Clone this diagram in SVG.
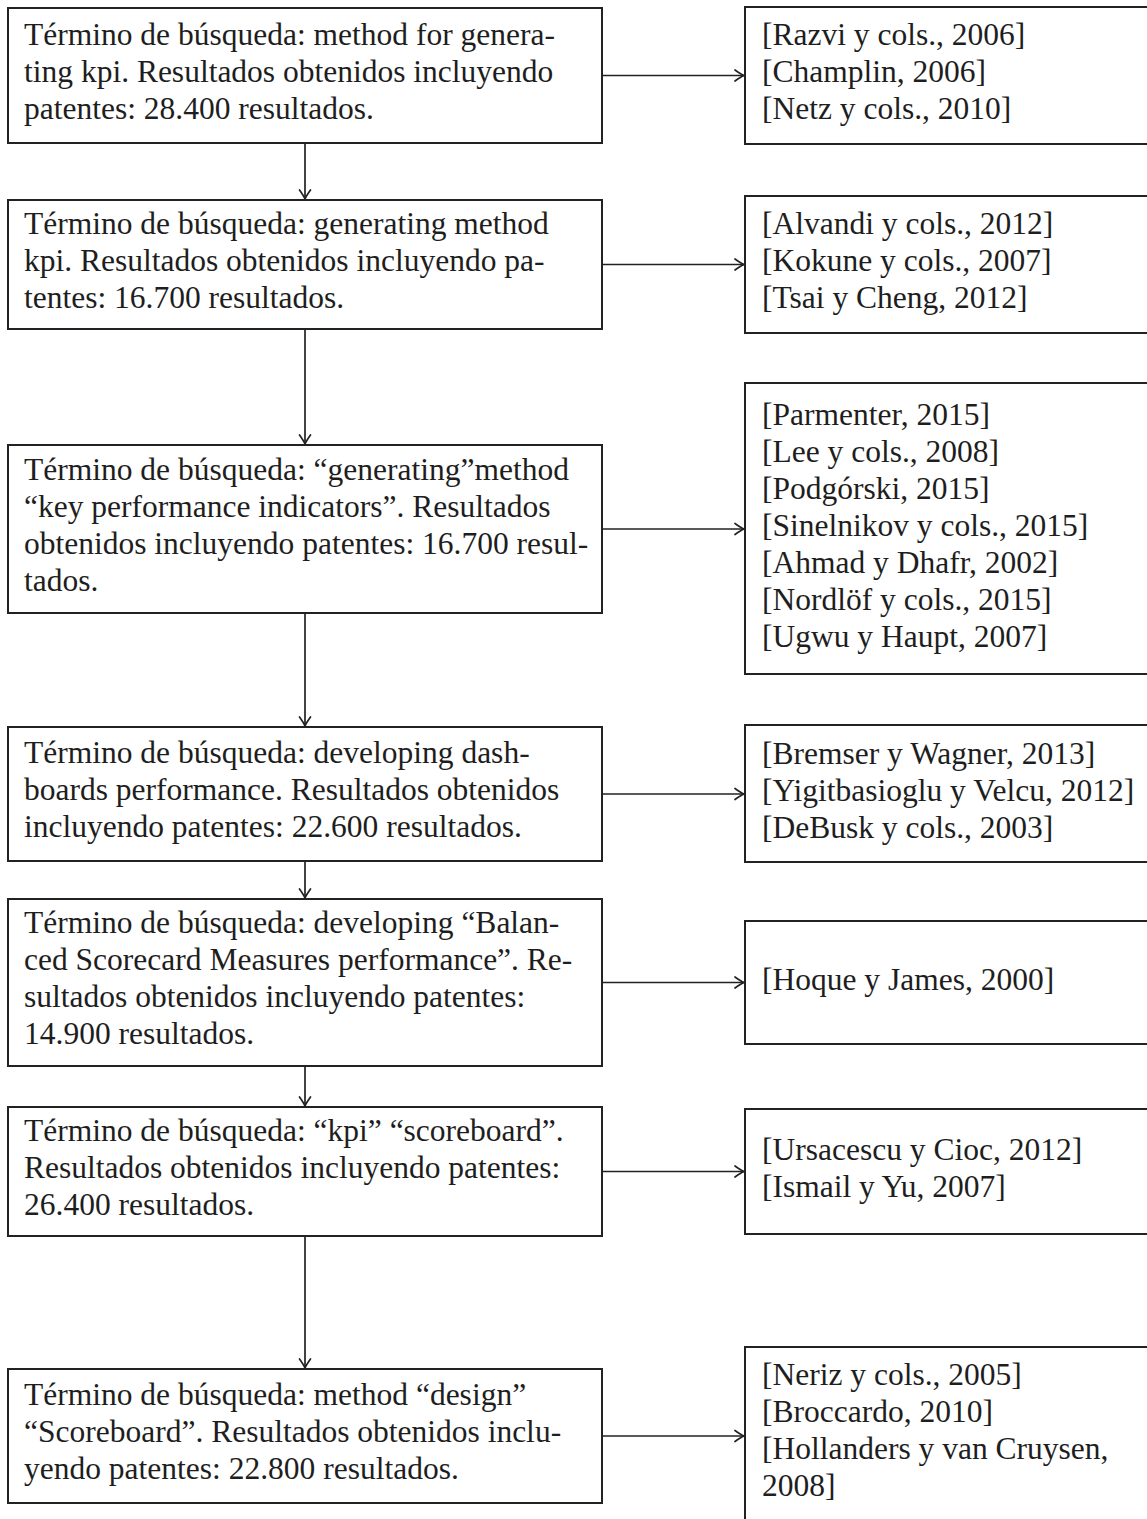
<svg xmlns="http://www.w3.org/2000/svg" width="1147" height="1519" viewBox="0 0 1147 1519">
<style>
.box{fill:#fff;stroke:#222;stroke-width:2}
.t{font-family:"Liberation Serif","Times New Roman",serif;font-size:31.5px;fill:#1e1e1e}
.c{fill:none;stroke:#222;stroke-width:1.7}
</style>
<defs>
<marker id="ah" markerUnits="userSpaceOnUse" markerWidth="16" markerHeight="16" viewBox="-12 -8 14 16" refX="0" refY="0" orient="auto">
<path d="M-9,-5.5 Q-3,-1.2 0,0 Q-3,1.2 -9,5.5" fill="none" stroke="#222" stroke-width="1.7" stroke-linecap="round"/>
</marker>
</defs>
<rect width="1147" height="1519" fill="#fff"/>
<g id="connectors">
<path class="c" marker-end="url(#ah)" d="M602,75.5H744"/>
<path class="c" marker-end="url(#ah)" d="M602,264.5H744"/>
<path class="c" marker-end="url(#ah)" d="M602,529H744"/>
<path class="c" marker-end="url(#ah)" d="M602,794H744"/>
<path class="c" marker-end="url(#ah)" d="M602,982.5H744"/>
<path class="c" marker-end="url(#ah)" d="M602,1171.5H744"/>
<path class="c" marker-end="url(#ah)" d="M602,1436H744"/>
<path class="c" marker-end="url(#ah)" d="M305,143V199"/>
<path class="c" marker-end="url(#ah)" d="M305,329V444"/>
<path class="c" marker-end="url(#ah)" d="M305,613V726"/>
<path class="c" marker-end="url(#ah)" d="M305,861V898"/>
<path class="c" marker-end="url(#ah)" d="M305,1066V1106"/>
<path class="c" marker-end="url(#ah)" d="M305,1236V1368"/>
</g>
<g id="L1"><rect class="box" x="8" y="8" width="594" height="135"/>
<text class="t" x="24" y="44.5">Término de búsqueda: method for genera-</text>
<text class="t" x="24" y="81.5">ting kpi. Resultados obtenidos incluyendo</text>
<text class="t" x="24" y="118.5">patentes: 28.400 resultados.</text></g>
<g id="R1"><rect class="box" x="745" y="7" width="410" height="137"/>
<text class="t" x="762" y="45">[Razvi y cols., 2006]</text>
<text class="t" x="762" y="82">[Champlin, 2006]</text>
<text class="t" x="762" y="119">[Netz y cols., 2010]</text></g>
<g id="L2"><rect class="box" x="8" y="200" width="594" height="129"/>
<text class="t" x="24" y="234">Término de búsqueda: generating method</text>
<text class="t" x="24" y="271">kpi. Resultados obtenidos incluyendo pa-</text>
<text class="t" x="24" y="308">tentes: 16.700 resultados.</text></g>
<g id="R2"><rect class="box" x="745" y="196" width="410" height="137"/>
<text class="t" x="762" y="234">[Alvandi y cols., 2012]</text>
<text class="t" x="762" y="271">[Kokune y cols., 2007]</text>
<text class="t" x="762" y="308">[Tsai y Cheng, 2012]</text></g>
<g id="L3"><rect class="box" x="8" y="445" width="594" height="168"/>
<text class="t" x="24" y="480">Término de búsqueda: “generating”method</text>
<text class="t" x="24" y="517">“key performance indicators”. Resultados</text>
<text class="t" x="24" y="554">obtenidos incluyendo patentes: 16.700 resul-</text>
<text class="t" x="24" y="591">tados.</text></g>
<g id="R3"><rect class="box" x="745" y="383" width="410" height="291"/>
<text class="t" x="762" y="425">[Parmenter, 2015]</text>
<text class="t" x="762" y="462">[Lee y cols., 2008]</text>
<text class="t" x="762" y="499">[Podgórski, 2015]</text>
<text class="t" x="762" y="536">[Sinelnikov y cols., 2015]</text>
<text class="t" x="762" y="573">[Ahmad y Dhafr, 2002]</text>
<text class="t" x="762" y="610">[Nordlöf y cols., 2015]</text>
<text class="t" x="762" y="647">[Ugwu y Haupt, 2007]</text></g>
<g id="L4"><rect class="box" x="8" y="727" width="594" height="134"/>
<text class="t" x="24" y="763">Término de búsqueda: developing dash-</text>
<text class="t" x="24" y="800">boards performance. Resultados obtenidos</text>
<text class="t" x="24" y="837">incluyendo patentes: 22.600 resultados.</text></g>
<g id="R4"><rect class="box" x="745" y="725" width="410" height="137"/>
<text class="t" x="762" y="764">[Bremser y Wagner, 2013]</text>
<text class="t" x="762" y="801">[Yigitbasioglu y Velcu, 2012]</text>
<text class="t" x="762" y="838">[DeBusk y cols., 2003]</text></g>
<g id="L5"><rect class="box" x="8" y="899" width="594" height="167"/>
<text class="t" x="24" y="933">Término de búsqueda: developing “Balan-</text>
<text class="t" x="24" y="970">ced Scorecard Measures performance”. Re-</text>
<text class="t" x="24" y="1007">sultados obtenidos incluyendo patentes:</text>
<text class="t" x="24" y="1044">14.900 resultados.</text></g>
<g id="R5"><rect class="box" x="745" y="921" width="410" height="123"/>
<text class="t" x="762" y="990">[Hoque y James, 2000]</text></g>
<g id="L6"><rect class="box" x="8" y="1107" width="594" height="129"/>
<text class="t" x="24" y="1141">Término de búsqueda: “kpi” “scoreboard”.</text>
<text class="t" x="24" y="1178">Resultados obtenidos incluyendo patentes:</text>
<text class="t" x="24" y="1215">26.400 resultados.</text></g>
<g id="R6"><rect class="box" x="745" y="1109" width="410" height="125"/>
<text class="t" x="762" y="1160">[Ursacescu y Cioc, 2012]</text>
<text class="t" x="762" y="1197">[Ismail y Yu, 2007]</text></g>
<g id="L7"><rect class="box" x="8" y="1369" width="594" height="134"/>
<text class="t" x="24" y="1405">Término de búsqueda: method “design”</text>
<text class="t" x="24" y="1442">“Scoreboard”. Resultados obtenidos inclu-</text>
<text class="t" x="24" y="1479">yendo patentes: 22.800 resultados.</text></g>
<g id="R7"><rect class="box" x="745" y="1347" width="410" height="200"/>
<text class="t" x="762" y="1385">[Neriz y cols., 2005]</text>
<text class="t" x="762" y="1422">[Broccardo, 2010]</text>
<text class="t" x="762" y="1459">[Hollanders y van Cruysen,</text>
<text class="t" x="762" y="1496">2008]</text></g>
</svg>
